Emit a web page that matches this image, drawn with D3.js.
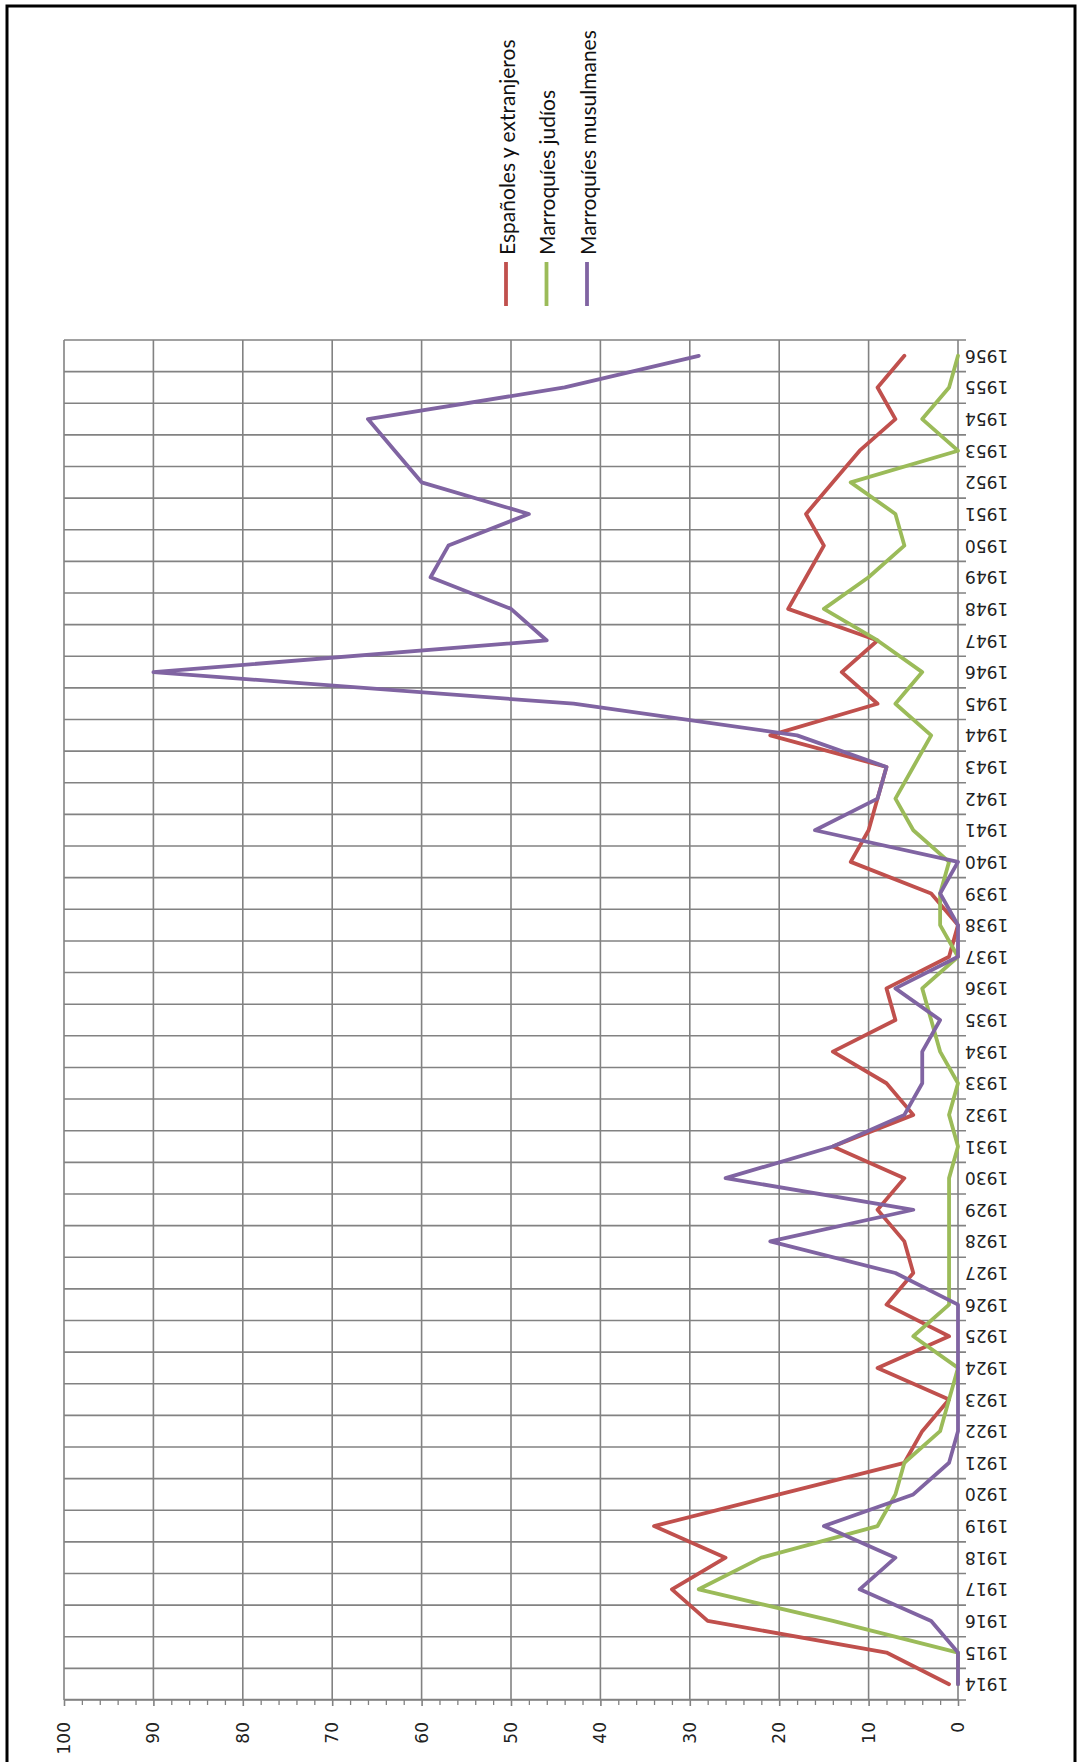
<!DOCTYPE html>
<html>
<head>
<meta charset="utf-8">
<script src="https://cdn.jsdelivr.net/npm/d3@7"></script>
<style>
  body { margin: 0; background: #fff; }
  text { font-family: "DejaVu Sans", sans-serif; }
</style>
</head>
<body>
<script>
// Data
const years = [1914, 1915, 1916, 1917, 1918, 1919, 1920, 1921, 1922, 1923, 1924,
    1925, 1926, 1927, 1928, 1929, 1930, 1931, 1932, 1933, 1934, 1935, 1936, 1937,
    1938, 1939, 1940, 1941, 1942, 1943, 1944, 1945, 1946, 1947, 1948, 1949, 1950,
    1951, 1952, 1953, 1954, 1955, 1956];

const espanoles = [1, 8, 28, 32, 26, 34, 20, 6, 4, 1, 9,
    1, 8, 5, 6, 9, 6, 14, 5, 8, 14, 7, 8, 1,
    0, 3, 12, 10, 9, 8, 21, 9, 13, 9, 19, 17, 15,
    17, 14, 11, 7, 9, 6];

const judios = [0, 0, 14, 29, 22, 9, 7, 6, 2, 1, 0,
    5, 1, 1, 1, 1, 1, 0, 1, 0, 2, 3, 4, 0,
    2, 2, 1, 5, 7, 5, 3, 7, 4, 9, 15, 10, 6,
    7, 12, 0, 4, 1, 0];

const musulmanes = [0, 0, 3, 11, 7, 15, 5, 1, 0, 0, 0,
    0, 0, 7, 21, 5, 26, 14, 6, 4, 4, 2, 7, 0,
    0, 2, 0, 16, 9, 8, 18, 43, 90, 46, 50, 59, 57,
    48, 60, 63, 66, 44, 29];

const seriesNames = ["Españoles y extranjeros", "Marroquíes judíos", "Marroquíes musulmanes"];
const seriesColors = ["#C0504D", "#9BBB59", "#8064A2"];
const valueTicks = [0, 10, 20, 30, 40, 50, 60, 70, 80, 90, 100];
const minorTicks = [2, 4, 6, 8, 12, 14, 16, 18, 22, 24, 26, 28, 32, 34, 36, 38, 42, 44, 46, 48,
    52, 54, 56, 58, 62, 64, 66, 68, 72, 74, 76, 78, 82, 84, 86, 88, 92, 94, 96, 98];

const series = [espanoles, judios, musulmanes].map((vals, i) => ({
    name: seriesNames[i],
    color: seriesColors[i],
    values: years.map((yr, j) => ({ year: yr, value: vals[j] }))
}));

const svgW = 1079, svgH = 1762;
const gridColor = "#828282";

const svg = d3.select("body")
    .append("svg")
    .attr("width", svgW)
    .attr("height", svgH);

svg.append("rect")
    .attr("width", svgW)
    .attr("height", svgH)
    .attr("fill", "#fff");

// black frame round the chart (bottom edge falls outside the picture)
svg.append("rect")
    .attr("x", 7)
    .attr("y", 6)
    .attr("width", 1068)
    .attr("height", 1800)
    .attr("fill", "none")
    .attr("stroke", "#000")
    .attr("stroke-width", 3);

// The chart is drawn upright, then turned a quarter turn counterclockwise
const plotLeft = 64, plotBottom = 1700;
const W = 1360;   // years run along this
const H = 894;    // values run along this

const g = svg.append("g")
    .attr("transform", `translate(${plotLeft},${plotBottom}) rotate(-90)`);

const x = d3.scaleBand()
    .domain(years)
    .range([0, W]);

const y = d3.scaleLinear()
    .domain([0, 100])
    .range([H, 0]);

// value gridlines
g.append("g")
    .selectAll("line")
    .data(valueTicks)
    .join("line")
    .attr("x1", 0)
    .attr("x2", W)
    .attr("y1", d => y(d))
    .attr("y2", d => y(d))
    .attr("stroke", gridColor)
    .attr("stroke-width", 1.6);

// category gridlines sit on the band edges and run out as tick marks
const bandEdges = years.map(d => x(d)).concat([W]);
g.append("g")
    .selectAll("line")
    .data(bandEdges)
    .join("line")
    .attr("x1", d => d)
    .attr("x2", d => d)
    .attr("y1", 0)
    .attr("y2", H + 8)
    .attr("stroke", gridColor)
    .attr("stroke-width", 1.6);

// value axis with minor ticks
const minorAxis = g.append("g")
    .call(d3.axisLeft(y).tickValues(minorTicks).tickSize(5).tickFormat(""));
minorAxis.select(".domain").remove();
minorAxis.selectAll("line").attr("stroke", gridColor).attr("stroke-width", 1.3);

const valueAxis = g.append("g")
    .call(d3.axisLeft(y).tickValues(valueTicks).tickSize(6).tickSizeOuter(0).tickPadding(16));
valueAxis.select(".domain").attr("stroke", gridColor).attr("stroke-width", 1.6);
valueAxis.selectAll("line").attr("stroke", gridColor).attr("stroke-width", 1.6);
valueAxis.selectAll("text")
    .style("font-size", "17px")
    .style("font-family", "DejaVu Sans")
    .attr("fill", "#222");

// year labels under the category axis, turned so they stand upright in the upright chart
const yearAxis = g.append("g")
    .attr("transform", `translate(0,${H})`)
    .call(d3.axisBottom(x).tickSize(0).tickPadding(0));
yearAxis.select(".domain").remove();
yearAxis.selectAll("text")
    .attr("transform", "rotate(-90)")
    .attr("x", -7)
    .attr("y", 0)
    .attr("dy", "0.35em")
    .attr("text-anchor", "end")
    .style("font-size", "17px")
    .style("font-family", "DejaVu Sans")
    .attr("fill", "#222");

// data lines
const line = d3.line()
    .defined(d => d.value != null)
    .x(d => x(d.year) + x.bandwidth() / 2)
    .y(d => y(d.value));

g.append("g")
    .selectAll("path")
    .data(series)
    .join("path")
    .attr("d", d => line(d.values))
    .attr("fill", "none")
    .attr("stroke", d => d.color)
    .attr("stroke-width", 3.8)
    .attr("stroke-linejoin", "round")
    .attr("stroke-linecap", "round");

// legend, up at the top, read from bottom to top
const legendX0 = 506, legendStep = 40.5;
const legend = svg.append("g")
    .selectAll("g")
    .data(series)
    .join("g")
    .attr("transform", (d, i) => `translate(${legendX0 + i * legendStep},0)`);

legend.append("line")
    .attr("x1", 0)
    .attr("x2", 0)
    .attr("y1", 262)
    .attr("y2", 306)
    .attr("stroke", d => d.color)
    .attr("stroke-width", 3.8);

legend.append("text")
    .attr("transform", "translate(1,255) rotate(-90)")
    .attr("dy", "0.36em")
    .attr("text-anchor", "start")
    .style("font-family", "Lato")
    .style("font-size", "21px")
    .attr("fill", "#111")
    .text(d => d.name);
</script>
</body>
</html>
